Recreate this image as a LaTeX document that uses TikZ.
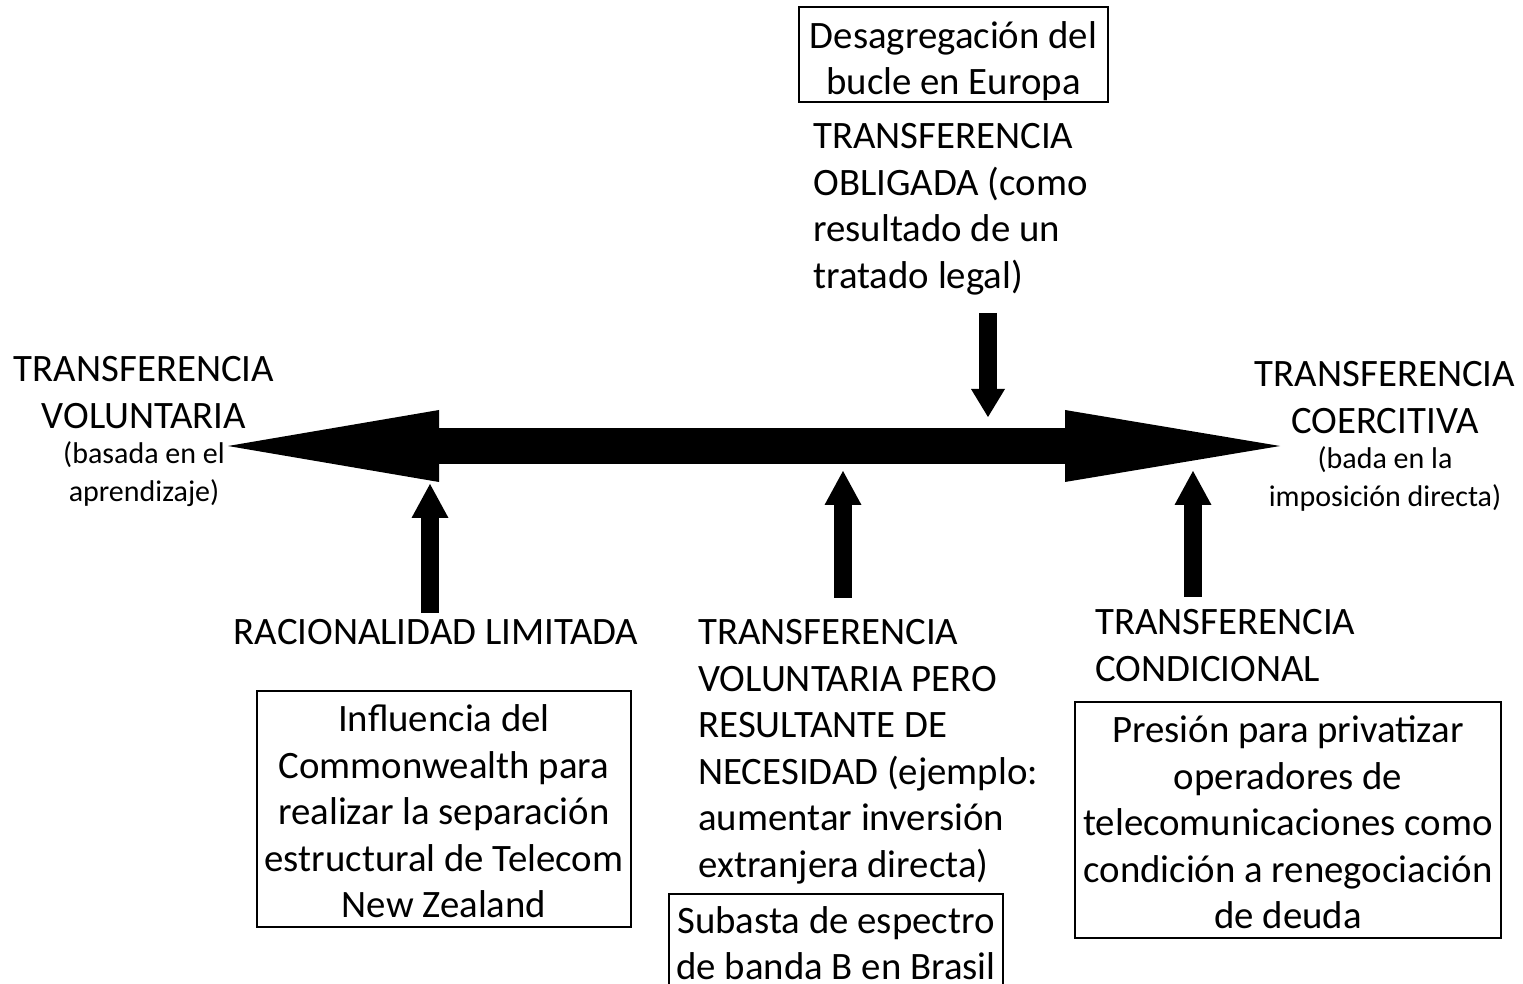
\documentclass[tikz,border=0pt]{standalone}
\usepackage{fontspec}
\setmainfont{Carlito}
\usetikzlibrary{arrows.meta}

\begin{document}
\begin{tikzpicture}[x=0.5pt,y=-0.5pt]
\tikzset{>={Triangle[width=18.5pt,length=17pt,line width=0pt]}}
\tikzstyle{big} =[inner sep=0pt,font=\fontsize{19.4}{23.25}\selectfont]
\tikzstyle{small} =[inner sep=0pt,font=\fontsize{15}{19.25}\selectfont]
\tikzstyle{case} =[draw,line width=1pt,inner sep=0pt]
\tikzstyle{pointer} =[->,line width=9pt]

\useasboundingbox (0,0) rectangle (1523,984);

% boxes
\node[case,minimum width=154.5pt,minimum height=47.5pt,
  label={[big,align=center,yshift=-3.25pt]center:{Desagregación del\\bucle en Europa}}](europa) at (953.5,54.5){};
\node[case,minimum width=187pt,minimum height=118pt,
  label={[big,align=center,yshift=-1.25pt]center:{Influencia del\\Commonwealth para\\realizar la separación\\estructural de Telecom\\New Zealand}}](commonwealth) at (444,809){};
\node[case,minimum width=167pt,minimum height=53pt,
  label={[big,align=center,yshift=2pt]center:{Subasta de espectro\\de banda B en Brasil}}](brasil) at (836,947){};
\node[case,minimum width=213pt,minimum height=118pt,
  label={[big,align=center,yshift=-1.25pt]center:{Presión para privatizar\\operadores de\\telecomunicaciones como\\condición a renegociación\\de deuda}}](deuda) at (1288,820){};

% texts
\node[big,align=left,anchor=north west](obligada) at (813,123){TRANSFERENCIA\\OBLIGADA (como\\resultado de un\\tratado legal)};
\node[big,align=center,anchor=north](voluntaria) at (144,356){TRANSFERENCIA\\VOLUNTARIA};
\node[small,align=center,anchor=north](aprendizaje) at (144,441){(basada en el\\aprendizaje)};
\node[big,align=center,anchor=north](coercitiva) at (1385,361){TRANSFERENCIA\\COERCITIVA};
\node[small,align=center,anchor=north](imposicion) at (1385,446){(bada en la\\imposición directa)};
\node[big,anchor=north](racional) at (436,619){RACIONALIDAD LIMITADA};
\node[big,align=left,anchor=north west](necesidad) at (698,619){TRANSFERENCIA\\VOLUNTARIA PERO\\RESULTANTE DE\\NECESIDAD (ejemplo:\\aumentar inversión\\extranjera directa)};
\node[big,align=left,anchor=north west](condicional) at (1095,609){TRANSFERENCIA\\CONDICIONAL};

% axis
\coordinate (ltip) at (228,446);
\coordinate (rtip) at (1280,446);
\draw[line width=18pt,{Triangle[width=36pt,length=105.5pt,line width=0pt]}-{Triangle[width=36pt,length=107.5pt,line width=0pt]}] (ltip) -- (rtip);

% pointers
\coordinate (d0) at (988,313);
\coordinate (d1) at (988,417);
\coordinate (u0) at (430,613);
\coordinate (u1) at (430,484);
\coordinate (m0) at (843,598);
\coordinate (m1) at (843,471);
\coordinate (r0) at (1193,597);
\coordinate (r1) at (1193,471);
\draw[->,line width=9pt,>={Triangle[width=17pt,length=14pt,line width=0pt]}] (d0) -- (d1);
\draw[pointer] (u0) -- (u1);
\draw[pointer] (m0) -- (m1);
\draw[pointer] (r0) -- (r1);
\end{tikzpicture}
\end{document}
